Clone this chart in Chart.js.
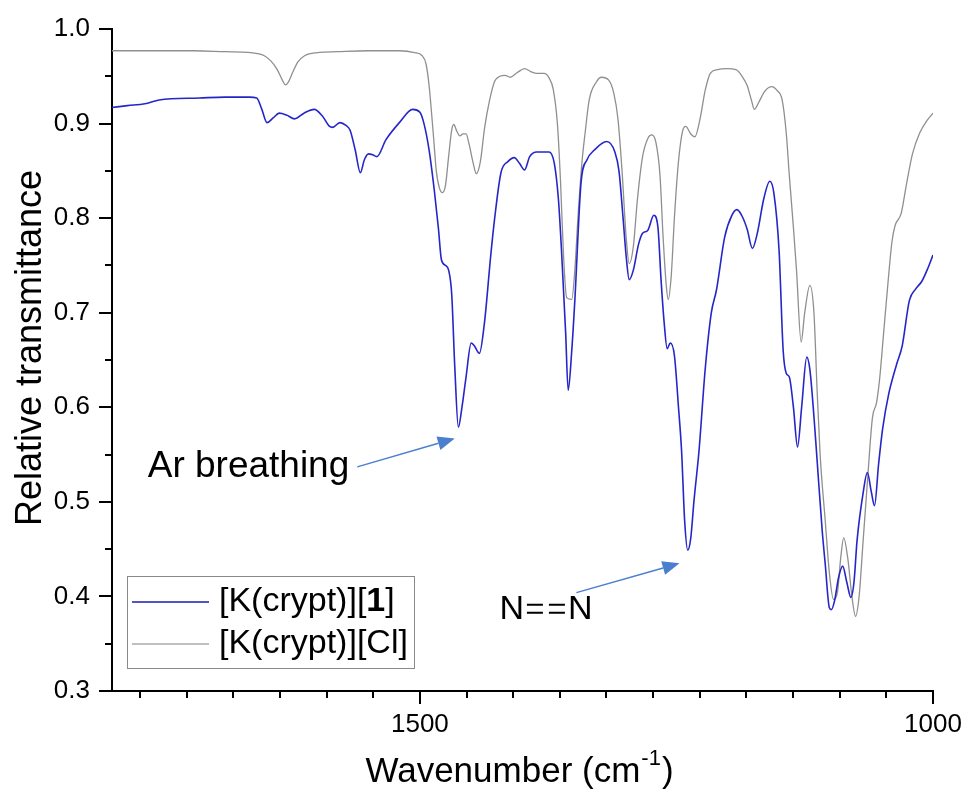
<!DOCTYPE html>
<html><head><meta charset="utf-8">
<script src="https://cdn.jsdelivr.net/npm/chart.js@4.4.0/dist/chart.umd.min.js"></script>
<style>html,body{margin:0;padding:0;background:#fff;}#wrap{width:968px;height:801px;}</style>
</head><body><div id="wrap"><canvas id="c" width="968" height="801"></canvas></div>
<script>
// ---------- data ----------
const wnK1 = [1800,1785,1768,1754,1715,1690,1666,1659,1654,1649,1643,1637,1630,1622,1613,1603,1595,1588,1585,1578,1572,1568,1563,1558,1554,1550,1546,1542,1533,1520,1507,1500,1496,1491,1486,1482,1479,1475,1472,1469,1466,1462.5,1459,1455,1450,1447,1442,1437,1431,1427,1421,1414,1408,1403,1398,1393,1386,1374,1369,1365,1362,1358,1355.5,1352,1349,1343,1337,1330,1318,1310,1306,1302,1299,1296,1292,1287,1283,1278,1272,1268,1265,1262,1259,1256,1252,1248,1245,1242,1239,1236,1233,1228,1222,1216,1211,1203,1196,1191,1186,1181,1176,1171,1165,1159,1155,1150,1146,1143,1140,1136,1132,1128,1123,1120,1116,1113,1108,1105,1101,1099,1096,1092,1088,1084,1080,1077,1074,1068,1064,1060,1057,1053,1049,1043,1039,1035,1030,1023,1017,1011,1005,1000];
const tK1  = [0.917,0.919,0.921,0.925,0.927,0.928,0.928,0.927,0.915,0.901,0.906,0.911,0.909,0.905,0.911,0.915,0.908,0.897,0.896,0.901,0.898,0.893,0.872,0.848,0.862,0.868,0.867,0.865,0.883,0.901,0.915,0.912,0.900,0.872,0.830,0.790,0.756,0.750,0.745,0.720,0.643,0.579,0.600,0.632,0.668,0.665,0.657,0.690,0.760,0.801,0.848,0.860,0.864,0.858,0.851,0.865,0.870,0.870,0.858,0.820,0.766,0.680,0.618,0.660,0.713,0.837,0.862,0.872,0.881,0.870,0.850,0.800,0.760,0.735,0.745,0.772,0.784,0.787,0.803,0.790,0.735,0.690,0.662,0.668,0.655,0.600,0.554,0.480,0.449,0.462,0.500,0.554,0.640,0.700,0.724,0.780,0.803,0.809,0.802,0.788,0.768,0.785,0.820,0.839,0.826,0.766,0.660,0.636,0.632,0.600,0.558,0.600,0.653,0.640,0.590,0.545,0.470,0.434,0.388,0.386,0.395,0.420,0.432,0.415,0.399,0.415,0.459,0.510,0.531,0.510,0.496,0.540,0.578,0.615,0.632,0.647,0.665,0.713,0.725,0.733,0.747,0.761];

const wnCl = [1800,1760,1720,1690,1665,1652,1645,1639,1634,1631,1628,1624,1619,1612,1600,1580,1550,1520,1505,1498,1494,1491,1487,1484,1481,1478,1475,1472,1469,1467,1464,1461,1458,1455,1452,1448,1445,1441,1437,1432,1427,1422,1417,1412,1405,1398,1392,1386,1379,1374,1370,1366,1363,1360,1357,1352,1349,1346,1342,1339,1335,1328,1323,1316,1311,1307,1303,1299,1296,1292,1288,1283,1278,1274,1270,1266,1263,1260,1258,1255,1252,1248,1244,1241,1236,1232,1227,1222,1217,1210,1201,1192,1186,1181,1177,1174,1170,1164,1157,1152,1147,1143,1140,1136,1133,1128.5,1125,1120,1116,1113,1110,1105,1101,1097,1093,1090,1087,1083,1079,1075.5,1072,1068,1064,1059,1055,1052,1048,1044,1040,1037,1031,1026,1020,1013,1006,1000];
const tCl  = [0.977,0.977,0.977,0.976,0.975,0.972,0.966,0.957,0.946,0.941,0.944,0.954,0.965,0.972,0.975,0.976,0.977,0.977,0.975,0.972,0.963,0.940,0.890,0.850,0.832,0.827,0.835,0.865,0.893,0.899,0.892,0.887,0.889,0.889,0.878,0.858,0.847,0.860,0.895,0.925,0.945,0.950,0.951,0.949,0.954,0.958,0.955,0.953,0.953,0.948,0.936,0.900,0.840,0.760,0.716,0.714,0.745,0.800,0.860,0.890,0.925,0.944,0.949,0.946,0.932,0.905,0.850,0.780,0.752,0.770,0.820,0.865,0.884,0.888,0.880,0.845,0.780,0.730,0.714,0.740,0.800,0.860,0.892,0.897,0.889,0.886,0.905,0.935,0.953,0.957,0.958,0.957,0.950,0.940,0.925,0.915,0.922,0.934,0.939,0.935,0.925,0.890,0.845,0.790,0.745,0.669,0.700,0.729,0.700,0.620,0.550,0.480,0.425,0.397,0.405,0.440,0.462,0.440,0.400,0.379,0.400,0.460,0.520,0.589,0.605,0.630,0.680,0.730,0.775,0.792,0.805,0.835,0.868,0.890,0.903,0.911];

const seriesNames = ['[K(crypt)][1]', '[K(crypt)][Cl]'];
const legendMarkup = ['[K(crypt)][**1**]', '[K(crypt)][Cl]'];   // ** = bold part
const xTickLabels = [1500, 1000];
const yTickLabels = [0.3, 0.4, 0.5, 0.6, 0.7, 0.8, 0.9, 1.0];
const xRange = [1000, 1800];
const yRange = [0.3, 1.0];
const xMinorStep = 500 / 11;
const yMinorStep = 0.05;
const yTitle = 'Relative transmittance';
const xTitleMain = 'Wavenumber (cm', xTitleSup = '-1', xTitleEnd = ')';
const arLabel = 'Ar breathing';
const arArrow = {from: [1561, 0.537], to: [1466, 0.567]};
const nnArrow = {from: [1347.5, 0.404], to: [1247, 0.435]};

// ---------- chart ----------
const FONT = '"Liberation Sans", Arial, sans-serif';
const BLUE = '#2626c8', GREY = '#8f8f8f', ARROW = '#4a7fcf';

function pts(xs, ys){ return xs.map((v,i)=>({x:v, y:ys[i]})); }
function noPad(s){ s.paddingTop = 0; s.paddingBottom = 0; s.paddingLeft = 0; s.paddingRight = 0; }

const decor = {
  id: 'decor',
  afterDraw(chart){
    const {ctx, chartArea: ca, scales: {x, y}} = chart;
    ctx.save();
    // ticks
    ctx.strokeStyle = '#000'; ctx.lineWidth = 2;
    for (let k = 0; ; k++) {
      const v = xRange[0] + k * xMinorStep;
      if (v > xRange[1] + 1e-6) break;
      const px = Math.round(x.getPixelForValue(v)) ;
      const major = xTickLabels.some(m => Math.abs(m - v) < 1e-6);
      ctx.beginPath(); ctx.moveTo(px, ca.bottom); ctx.lineTo(px, ca.bottom + (major ? 13 : 7)); ctx.stroke();
    }
    for (let k = 0; ; k++) {
      const v = yRange[0] + k * yMinorStep;
      if (v > yRange[1] + 1e-6) break;
      const py = Math.round(y.getPixelForValue(v));
      const major = k % 2 === 0;
      ctx.beginPath(); ctx.moveTo(ca.left, py); ctx.lineTo(ca.left - (major ? 13 : 7), py); ctx.stroke();
    }
    // axis titles
    ctx.fillStyle = '#000';
    ctx.textBaseline = 'middle';
    ctx.font = '36px ' + FONT;
    ctx.save();
    ctx.translate(31, (ca.top + ca.bottom) / 2 - 12);
    ctx.rotate(-Math.PI / 2);
    ctx.textAlign = 'center';
    ctx.fillText(yTitle, 0, 0);
    ctx.restore();
    ctx.textAlign = 'left';
    const mainFont = '35px ' + FONT, supFont = '22px ' + FONT;
    ctx.font = mainFont; const w1 = ctx.measureText(xTitleMain).width;
    ctx.font = supFont; const w2 = ctx.measureText(xTitleSup).width;
    ctx.font = mainFont; const w3 = ctx.measureText(xTitleEnd).width;
    let tx = (ca.left + ca.right) / 2 - 4 - (w1 + w2 + w3) / 2;
    const ty = 772;
    ctx.fillText(xTitleMain, tx, ty); tx += w1;
    ctx.font = supFont; ctx.fillText(xTitleSup, tx + 1, ty - 13); tx += w2 + 2;
    ctx.font = mainFont; ctx.fillText(xTitleEnd, tx, ty);

    // legend
    const lx = ca.left + 15, ly = ca.bottom - 115, lw = 287, lh = 92;
    ctx.fillStyle = '#fff'; ctx.fillRect(lx, ly, lw, lh);
    ctx.strokeStyle = '#8a8a8a'; ctx.lineWidth = 1;
    ctx.strokeRect(lx + 0.5, ly + 0.5, lw, lh);
    chart.data.datasets.forEach((ds, i) => {
      const cy = ly + 26 + i * 42;
      ctx.strokeStyle = ds.legendColor; ctx.lineWidth = ds.borderWidth;
      ctx.beginPath(); ctx.moveTo(lx + 5, cy); ctx.lineTo(lx + 82, cy); ctx.stroke();
      let cx = lx + 92;
      ctx.fillStyle = '#000'; ctx.textBaseline = 'middle'; ctx.textAlign = 'left';
      legendMarkup[i].split('**').forEach((part, j) => {
        ctx.font = (j % 2 ? 'bold ' : '') + '34px ' + FONT;
        ctx.fillText(part, cx, cy);
        cx += ctx.measureText(part).width;
      });
    });

    // annotations
    function arrow(a){
      const x0 = x.getPixelForValue(a.from[0]), y0 = y.getPixelForValue(a.from[1]);
      const x1 = x.getPixelForValue(a.to[0]), y1 = y.getPixelForValue(a.to[1]);
      const ang = Math.atan2(y1 - y0, x1 - x0), hl = 17, hw = 7;
      const c = Math.cos(ang), s = Math.sin(ang);
      ctx.strokeStyle = ARROW; ctx.fillStyle = ARROW; ctx.lineWidth = 1.5;
      ctx.beginPath(); ctx.moveTo(x0, y0); ctx.lineTo(x1 - hl * c, y1 - hl * s); ctx.stroke();
      ctx.beginPath(); ctx.moveTo(x1, y1);
      ctx.lineTo(x1 - hl * c + hw * s, y1 - hl * s - hw * c);
      ctx.lineTo(x1 - hl * c - hw * s, y1 - hl * s + hw * c);
      ctx.closePath(); ctx.fill();
      return [x0, y0];
    }
    const [ax, ay] = arrow(arArrow);
    ctx.fillStyle = '#000'; ctx.font = '37px ' + FONT; ctx.textAlign = 'right'; ctx.textBaseline = 'middle';
    ctx.fillText(arLabel, ax - 8, ay);
    const [nx, ny] = arrow(nnArrow);
    ctx.fillStyle = '#000'; ctx.textAlign = 'left'; ctx.font = '34px ' + FONT;
    const n1x = nx - 77, nY = ny + 17;
    ctx.fillText('N', n1x, nY);
    const wN = ctx.measureText('N').width;
    ctx.strokeStyle = '#000'; ctx.lineWidth = 2;
    ctx.setLineDash([16, 6]);
    ctx.beginPath(); ctx.moveTo(n1x + wN + 3, nY - 5); ctx.lineTo(n1x + wN + 41, nY - 5); ctx.stroke();
    ctx.beginPath(); ctx.moveTo(n1x + wN + 3, nY + 3); ctx.lineTo(n1x + wN + 41, nY + 3); ctx.stroke();
    ctx.setLineDash([]);
    ctx.fillText('N', n1x + wN + 44, nY);
    ctx.restore();
  }
};

new Chart(document.getElementById('c'), {
  type: 'line',
  data: {
    datasets: [
      {label: seriesNames[0], data: pts(wnK1, tK1), borderColor: BLUE, legendColor: '#1c1caa', borderWidth: 1.6, pointRadius: 0, fill: false},
      {label: seriesNames[1], data: pts(wnCl, tCl), borderColor: GREY, legendColor: '#aaaaaa', borderWidth: 1.3, pointRadius: 0, fill: false}
    ]
  },
  options: {
    responsive: false, animation: false, devicePixelRatio: 1,
    layout: {padding: {left: 0, right: 35, top: 29, bottom: 0}},
    plugins: {legend: {display: false}, tooltip: {enabled: false}},
    elements: {line: {cubicInterpolationMode: 'monotone'}, point: {radius: 0}},
    scales: {
      x: {
        type: 'linear', reverse: true, min: xRange[0], max: xRange[1],
        afterBuildTicks: s => { s.ticks = xTickLabels.map(v => ({value: v})); },
        afterFit: s => { s.height = 110; noPad(s); },
        grid: {display: false, drawTicks: false},
        border: {display: true, color: '#000', width: 2},
        ticks: {font: {family: FONT, size: 26}, color: '#000', padding: 18, maxRotation: 0, autoSkip: false, callback: v => String(v)}
      },
      y: {
        type: 'linear', min: yRange[0], max: yRange[1],
        afterBuildTicks: s => { s.ticks = yTickLabels.map(v => ({value: v})); },
        afterFit: s => { s.width = 112; noPad(s); },
        grid: {display: false, drawTicks: false},
        border: {display: true, color: '#000', width: 2},
        ticks: {font: {family: FONT, size: 26}, color: '#000', padding: 22, autoSkip: false, callback: v => Number(v).toFixed(1)}
      }
    }
  },
  plugins: [decor]
});
</script></body></html>
